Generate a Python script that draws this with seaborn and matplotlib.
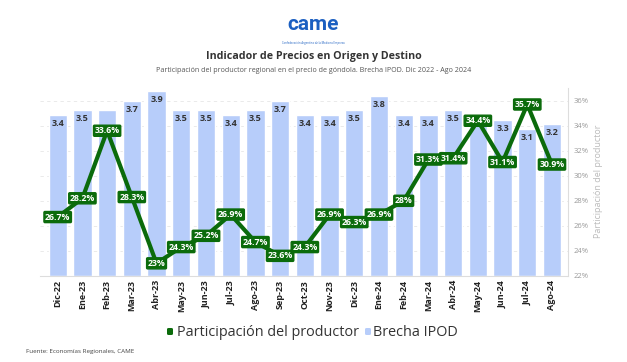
import pandas as pd
import matplotlib.pyplot as plt
import seaborn as sns
from matplotlib.patches import FancyBboxPatch

# data
meses = ['Dic-22', 'Ene-23', 'Feb-23', 'Mar-23', 'Abr-23', 'May-23', 'Jun-23', 'Jul-23',
         'Ago-23', 'Sep-23', 'Oct-23', 'Nov-23', 'Dic-23', 'Ene-24', 'Feb-24', 'Mar-24',
         'Abr-24', 'May-24', 'Jun-24', 'Jul-24', 'Ago-24']
brecha = [3.4, 3.5, 3.5, 3.7, 3.9, 3.5, 3.5, 3.4, 3.5, 3.7, 3.4, 3.4, 3.5, 3.8, 3.4, 3.4,
          3.5, 3.4, 3.3, 3.1, 3.2]
participacion = [26.7, 28.2, 33.6, 28.3, 23.0, 24.3, 25.2, 26.9, 24.7, 23.6, 24.3, 26.9,
                 26.3, 26.9, 28.0, 31.3, 31.4, 34.4, 31.1, 35.7, 30.9]
brecha_txt = ['3.4', '3.5', '', '3.7', '3.9', '3.5', '3.5', '3.4', '3.5', '3.7', '3.4', '3.4',
              '3.5', '3.8', '3.4', '3.4', '3.5', '', '3.3', '3.1', '3.2']
pct_ticks = [22, 24, 26, 28, 30, 32, 34, 36]

df = pd.DataFrame({'mes': meses, 'brecha': brecha, 'part': participacion})
df['x'] = range(len(df))

sns.set_style('white')
plt.rcParams['font.family'] = ['Open Sans', 'DejaVu Sans']

fig = plt.figure(figsize=(6.27, 3.62), dpi=100)
ax = fig.add_axes([0.064, 0.238, 0.842, 0.52])

bar_col = '#b7cdfa'
line_col = '#0b6b0b'
bar_max = 3.98
pct_lo, pct_hi = 22, 37.05

sns.barplot(data=df, x='x', y='brecha', color=bar_col, saturation=1, width=0.74, ax=ax, zorder=2)
ax.set_ylim(0, bar_max)
# grid of the % axis, drawn on the bar axis so the bars cover it
ax.set_yticks([(p - pct_lo) / (pct_hi - pct_lo) * bar_max for p in pct_ticks])
ax.set_yticklabels([])
ax.tick_params(axis='y', length=0)
ax.grid(axis='y', color='#e6e6e6', linestyle=(0, (4, 4)), linewidth=0.6)
ax.set_axisbelow(True)
ax.set_ylabel('')
ax.set_xlabel('')
ax.set_xticks(df['x'])
ax.set_xticklabels(meses, rotation=90, fontsize=6.5, fontweight='bold', color='#222222')
ax.tick_params(axis='x', length=0, pad=3)
for s in ['top', 'left', 'right']:
    ax.spines[s].set_visible(False)
ax.spines['bottom'].set_color('#dddddd')
for i, (v, t) in enumerate(zip(brecha, brecha_txt)):
    if t:
        ax.text(i, v - 0.08, t, ha='center', va='top', fontsize=6.5, fontweight='bold',
                color='#333333', zorder=3)

ax2 = ax.twinx()
sns.lineplot(data=df, x='x', y='part', color=line_col, linewidth=3, ax=ax2, zorder=4)
ax2.set_ylim(pct_lo, pct_hi)
ax2.set_yticks(pct_ticks)
ax2.set_yticklabels([f'{t}%' for t in pct_ticks], fontsize=5.5, color='#999999')
ax2.tick_params(axis='y', length=0, pad=4)
ax2.set_ylabel('Participación del productor', fontsize=6.5, color='#bbbbbb')
ax2.set_xlabel('')
ax2.grid(False)
for s in ['top', 'left', 'bottom']:
    ax2.spines[s].set_visible(False)
ax2.spines['right'].set_color('#dddddd')
for i, v in enumerate(participacion):
    lab = f'{v:g}%'
    ax2.text(i, v, lab, ha='center', va='center', fontsize=6.3, fontweight='bold', color='white',
             zorder=5, bbox=dict(boxstyle='round,pad=0.12', fc=line_col, ec=line_col))
ax.set_xlim(-0.71, 20.65)
ax2.set_xlim(-0.71, 20.65)

# header
fig.text(0.5, 0.931, 'came', ha='center', va='center', fontsize=15, fontweight='bold',
         color='#1b5fc1', family=['Roboto', 'DejaVu Sans'])
fig.text(0.5, 0.881, 'Confederación Argentina de la Mediana Empresa', ha='center', va='center',
         fontsize=2.0, color='#1b5fc1')
fig.text(0.5, 0.843, 'Indicador de Precios en Origen y Destino', ha='center', va='center',
         fontsize=7.7, fontweight='bold', color='#333333')
fig.text(0.5, 0.804, 'Participación del productor regional en el precio de góndola. Brecha IPOD. Dic 2022 - Ago 2024',
         ha='center', va='center', fontsize=5.15, color='#555555')

# legend
W, H = 627, 362
for x0, c in [(167, line_col), (365, bar_col)]:
    fig.patches.append(FancyBboxPatch((x0 / W, (H - 335) / H), 6 / W, 7 / H,
                                      boxstyle='round,pad=0,rounding_size=0.003',
                                      transform=fig.transFigure, fc=c, ec='none'))
fig.text(177 / W, (H - 333) / H, 'Participación del productor', ha='left', va='center',
         fontsize=10.4, color='#333333')
fig.text(373 / W, (H - 333) / H, 'Brecha IPOD', ha='left', va='center', fontsize=10.4,
         color='#333333')

fig.text(26 / W, (H - 352) / H, 'Fuente: Economías Regionales, CAME', ha='left', va='center',
         fontsize=4.5, color='#444444')

plt.savefig('out.png', dpi=100)
